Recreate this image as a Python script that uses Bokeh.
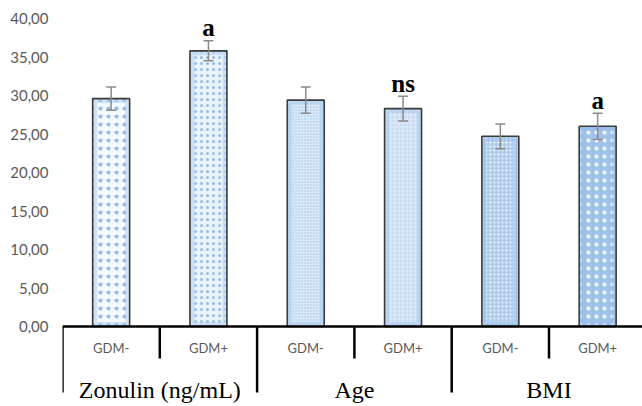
from bokeh.plotting import figure
from bokeh.models import (ColumnDataSource, Range1d, FixedTicker, Whisker, TeeHead, Span)
from bokeh.core.properties import value
from bokeh.embed import file_html
from bokeh.resources import INLINE

# ---- data ----
groups = ["Zonulin (ng/mL)", "Age", "BMI"]
subgroups = ["GDM-", "GDM+"]
means = [29.6, 35.8, 29.4, 28.3, 24.7, 26.0]
errors = [1.5, 1.3, 1.7, 1.6, 1.6, 1.7]
sig = ["", "a", "", "ns", "", "a"]
y_ticks = [0, 5, 10, 15, 20, 25, 30, 35, 40]

# ---- styles ----
fills = ["#f3f8fd", "#eaf2fb", "#d9e8f7", "#c9ddf2", "#b0cdee", "#a0c2e8"]
hatch_colors = ["#92bde8", "#92bde8", "#a6c8ec", "#ecf3fb", "#eef5fc", "#f6f9fd"]
hatch_patterns = ["dot", "dot", "dot", "cross", "dot", "dot"]
hatch_scales = [8, 6, 3, 4, 4, 8]
hatch_weights = [0.7, 0.7, 0.7, 0.6, 1.0, 1.3]
glow = ["#b3d1f0", "#b3d1f0", "#a9caee", "#a4c6ec", "#9dc1ea", "#93bbe7"]

W, H = 642, 406
left = 62
px_per = 7.7
top_pad = 18
bottom_pad = H - top_pad - 40 * px_per
cat_px = 97.3
x_end = (W - left) / cat_px
bar_w = 0.38

n = len(means)
xs = [i + 0.5 for i in range(n)]
labels = [subgroups[i % 2] for i in range(n)]

p = figure(width=W, height=H, output_backend="svg", toolbar_location=None,
           x_range=Range1d(0, x_end),
           y_range=Range1d(-bottom_pad / px_per, 40 + top_pad / px_per),
           x_axis_location=None, tools="")
p.min_border_left = left
p.min_border_right = 0
p.min_border_top = 0
p.min_border_bottom = 0
p.outline_line_color = None
p.grid.visible = False
p.background_fill_color = "white"

src = ColumnDataSource(dict(
    x=xs, top=means, fill=fills, hc=hatch_colors, hp=hatch_patterns, hs=hatch_scales,
    hw=hatch_weights, glow=glow,
    top_in=[m - 2.5 / px_per for m in means],
    upper=[m + e for m, e in zip(means, errors)],
    lower=[m - e for m, e in zip(means, errors)],
))

p.vbar(x="x", top="top", bottom=0, width=bar_w, source=src,
       fill_color="fill", line_color=None,
       hatch_pattern="hp", hatch_color="hc", hatch_scale="hs", hatch_weight="hw")
# soft inner glow along the bar edges
p.vbar(x="x", top="top_in", bottom=2.5 / px_per, width=bar_w - 5 / cat_px, source=src,
       fill_color=None, line_color="glow", line_width=4, line_alpha=0.55)
p.vbar(x="x", top="top", bottom=0, width=bar_w, source=src,
       fill_color=None, line_color="#3a3a3a", line_width=1.6)

head = dict(size=10, line_color="#8a8a8a", line_width=1.5)
p.add_layout(Whisker(base="x", upper="upper", lower="lower", source=src,
                     line_color="#8a8a8a", line_width=1.5, level="overlay",
                     upper_head=TeeHead(**head), lower_head=TeeHead(**head)))

# significance letters
sx = [xs[i] for i in range(n) if sig[i]]
sy = [means[i] + errors[i] for i in range(n) if sig[i]]
st = [s for s in sig if s]
p.text(x=sx, y=sy, text=st, text_font=value("Liberation Serif"), text_font_style="bold",
       text_font_size="25px", text_align="center", text_baseline="middle",
       y_offset=-13, text_color="black")

# baseline and category separators
p.add_layout(Span(location=0, dimension="width", line_color="black", line_width=2.5))
sep_x = list(range(n))
long_sep = [i for i in sep_x if i % 2 == 0]
short_sep = [i for i in sep_x if i % 2 == 1]
p.segment(x0=long_sep, x1=long_sep, y0=[0] * len(long_sep),
          y1=[-66 / px_per] * len(long_sep), line_color="black", line_width=2.5)
p.segment(x0=short_sep, x1=short_sep, y0=[0] * len(short_sep),
          y1=[-32 / px_per] * len(short_sep), line_color="black", line_width=2.5)

# subgroup labels
p.text(x=xs, y=[0] * n, text=labels, text_font=value("Lato"), text_font_size="13px",
       text_color="#595959", text_align="center", text_baseline="middle", y_offset=21)

# group labels
gx = [2 * i + 1 for i in range(len(groups))]
p.text(x=gx, y=[0] * len(groups), text=groups, text_font=value("Liberation Serif"),
       text_font_size="24px", text_color="black", text_align="center",
       text_baseline="middle", y_offset=63)

# y axis
p.yaxis.ticker = FixedTicker(ticks=y_ticks)
p.yaxis.major_label_overrides = {t: f"{t:.2f}".replace(".", ",") for t in y_ticks}
p.yaxis.axis_line_color = None
p.yaxis.major_tick_line_color = None
p.yaxis.minor_tick_line_color = None
p.yaxis.major_tick_out = 0
p.yaxis.major_tick_in = 0
p.yaxis.major_label_standoff = 14
p.yaxis.major_label_text_font = "Lato"
p.yaxis.major_label_text_font_size = "15px"
p.yaxis.major_label_text_color = "#595959"

open("out.html", "w").write(file_html(p, INLINE))
